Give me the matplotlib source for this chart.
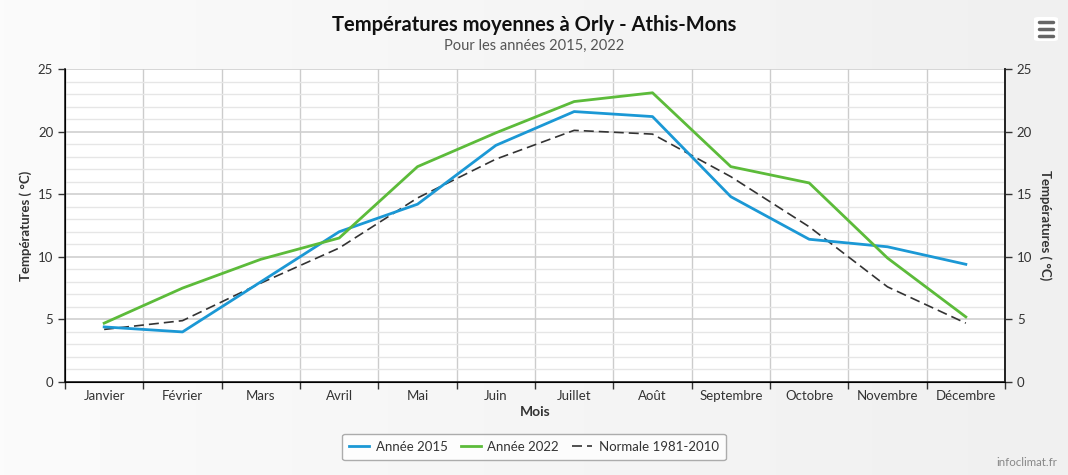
import numpy as np
import matplotlib.pyplot as plt
from matplotlib.patches import FancyBboxPatch
from matplotlib.ticker import MultipleLocator, FixedLocator

plt.rcParams["font.family"] = ["Lato", "DejaVu Sans"]

# --- Data ---
mois = ["Janvier", "Février", "Mars", "Avril", "Mai", "Juin", "Juillet",
        "Août", "Septembre", "Octobre", "Novembre", "Décembre"]
annee_2015 = [4.4, 4.0, 8.0, 12.0, 14.2, 18.9, 21.6, 21.2, 14.8, 11.4, 10.8, 9.4]
annee_2022 = [4.7, 7.5, 9.8, 11.5, 17.2, 19.9, 22.4, 23.1, 17.2, 15.9, 9.9, 5.2]
normale = [4.2, 4.9, 7.9, 10.7, 14.7, 17.8, 20.1, 19.8, 16.4, 12.4, 7.6, 4.7]

# --- Figure ---
fig = plt.figure(figsize=(10.68, 4.75), dpi=100)
fig.patch.set_facecolor("#f3f3f3")

# soft background gradient (white on the left, light gray on the right)
bg = fig.add_axes([0, 0, 1, 1], zorder=-10)
grad = np.linspace(0, 1, 256).reshape(1, -1)
bg.imshow(grad, aspect="auto", cmap=plt.matplotlib.colors.LinearSegmentedColormap.from_list(
    "bg", ["#fbfbfb", "#f0f0f0"]), extent=[0, 1, 0, 1])
bg.set_axis_off()

ax = fig.add_axes([65 / 1068, 1 - 382 / 475, 940 / 1068, 313 / 475])
ax.set_facecolor("white")

x = np.arange(len(mois))
ax.plot(x, annee_2015, color="#1b98d5", lw=2, label="Année 2015", zorder=4)
ax.plot(x, annee_2022, color="#5cbb3a", lw=2, label="Année 2022", zorder=4)
ax.plot(x, normale, color="#333333", lw=1.2, ls=(0, (6, 3)), label="Normale 1981-2010", zorder=3)

ax.set_xlim(-0.5, 11.5)
ax.set_ylim(0, 25)

# y grid: minor every 1, major every 5
ax.yaxis.set_major_locator(MultipleLocator(5))
ax.yaxis.set_minor_locator(MultipleLocator(1))
ax.grid(axis="y", which="major", color="#cfcfcf", lw=1.2)
ax.grid(axis="y", which="minor", color="#e6e6e6", lw=1.0)

# x: labels at centres, ticks/grid at boundaries
ax.set_xticks(x)
ax.set_xticklabels(mois, fontsize=9.5, color="#333333")
ax.tick_params(axis="x", which="major", length=0, pad=6)
ax.xaxis.set_minor_locator(FixedLocator(np.arange(-0.5, 12, 1)))
ax.tick_params(axis="x", which="minor", length=5, width=1, color="#333333", direction="out")
ax.grid(axis="x", which="minor", color="#cccccc", lw=1.0)
ax.set_axisbelow(True)

ax.tick_params(axis="y", which="major", length=5, width=1, labelsize=9.5,
               labelcolor="#333333", color="#333333")
ax.tick_params(axis="y", which="minor", length=0)

ax.spines["top"].set_visible(False)
for side in ["left", "bottom", "right"]:
    ax.spines[side].set_color("#222222")
    ax.spines[side].set_linewidth(1.2)

ax.set_ylabel("Températures ( °C)", fontsize=9.5, fontweight="bold", color="#333333", labelpad=4)
ax.set_xlabel("Mois", fontsize=10, fontweight="bold", color="#333333", labelpad=3)

ax2 = ax.twinx()
ax2.set_ylim(0, 25)
ax2.yaxis.set_major_locator(MultipleLocator(5))
ax2.tick_params(axis="y", length=5, width=1, labelsize=9.5, labelcolor="#333333", color="#333333")
ax2.spines["right"].set_color("#222222")
ax2.spines["right"].set_linewidth(1.2)
ax2.spines["top"].set_visible(False)
ax2.set_ylabel("Températures ( °C)", fontsize=9.5, fontweight="bold", color="#333333",
               rotation=270, labelpad=14)

# titles
fig.text(0.5, 1 - 25 / 475, "Températures moyennes à Orly - Athis-Mons", ha="center", va="center",
         fontsize=14.5, fontweight="bold", color="#111111")
fig.text(0.5, 1 - 46 / 475, "Pour les années 2015, 2022", ha="center", va="center",
         fontsize=10.5, color="#555555")

# legend
leg = fig.legend(loc="center", bbox_to_anchor=(534 / 1068, 1 - 447 / 475), ncol=3, fontsize=9.5,
                 frameon=True, handlelength=1.5, handletextpad=0.5, columnspacing=1.0,
                 fancybox=True, borderpad=0.55)
leg.get_frame().set_edgecolor("#999999")
leg.get_frame().set_facecolor("white")
leg.get_frame().set_linewidth(1.0)
for t in leg.get_texts():
    t.set_color("#333333")

# hamburger menu button
fig.patches.append(FancyBboxPatch((1034 / 1068, 1 - 41 / 475), 24 / 1068, 24 / 475,
                                  boxstyle="round,pad=0,rounding_size=0.004",
                                  transform=fig.transFigure, facecolor="white",
                                  edgecolor="none", zorder=5))
for yy in [22, 29, 36]:
    fig.add_artist(plt.Line2D([1039 / 1068, 1053 / 1068], [1 - yy / 475, 1 - yy / 475],
                              transform=fig.transFigure, color="#666666", lw=2.5,
                              solid_capstyle="round", zorder=6))

fig.text(1027 / 1068, 1 - 463 / 475, "infoclimat.fr", ha="center", va="center",
         fontsize=8.3, color="#888888")

fig.savefig("out.png", dpi=100, facecolor=fig.get_facecolor())
